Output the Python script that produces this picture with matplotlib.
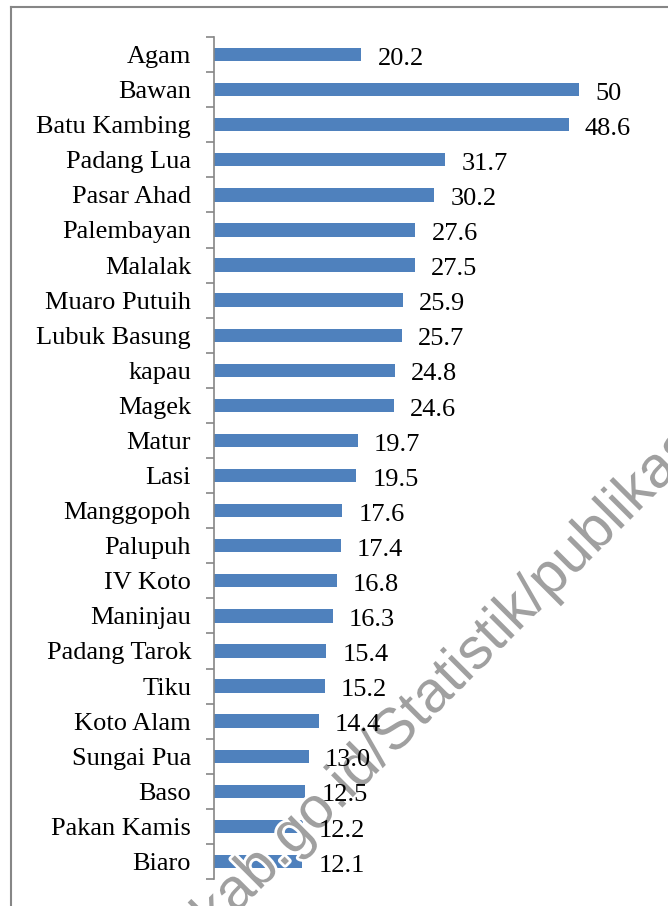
import math
import matplotlib
matplotlib.use("Agg")
import matplotlib.pyplot as plt
import matplotlib.patheffects as pe
from matplotlib.lines import Line2D

categories = ["Agam", "Bawan", "Batu Kambing", "Padang Lua", "Pasar Ahad", "Palembayan",
              "Malalak", "Muaro Putuih", "Lubuk Basung", "kapau", "Magek", "Matur", "Lasi",
              "Manggopoh", "Palupuh", "IV Koto", "Maninjau", "Padang Tarok", "Tiku",
              "Koto Alam", "Sungai Pua", "Baso", "Pakan Kamis", "Biaro"]
values = [20.2, 50, 48.6, 31.7, 30.2, 27.6, 27.5, 25.9, 25.7, 24.8, 24.6, 19.7, 19.5,
          17.6, 17.4, 16.8, 16.3, 15.4, 15.2, 14.4, 13.0, 12.5, 12.2, 12.1]
value_labels = ["20.2", "50", "48.6", "31.7", "30.2", "27.6", "27.5", "25.9", "25.7", "24.8",
                "24.6", "19.7", "19.5", "17.6", "17.4", "16.8", "16.3", "15.4", "15.2", "14.4",
                "13.0", "12.5", "12.2", "12.1"]
wm_prefix = "agamkab.go.id/"
wm_rest = "Statistik/publikasi"

W, H = 668, 906
fig = plt.figure(figsize=(W / 100, H / 100), dpi=100)
fig.patch.set_facecolor("white")

serif = ["Liberation Serif", "DejaVu Serif"]
sans = ["Liberation Sans", "DejaVu Sans"]
fs = 19
grey = "#868686"

ax = fig.add_axes([214 / W, 1 - 879 / H, 438 / W, (879 - 37) / H])
n = len(categories)
pos = list(range(n))
ax.barh(pos, values, height=0.38, color="#4F81BD", zorder=2)
ax.set_ylim(n - 0.5, -0.5)
ax.set_xlim(0, 60)

for p, v, lab in zip(pos, values, value_labels):
    ax.annotate(lab, xy=(v, p), xytext=(11.5, -3), textcoords="offset points",
                ha="left", va="center", fontsize=fs, family=serif, color="black",
                zorder=5)

ax.set_yticks(pos)
ax.set_yticklabels(categories, family=serif, fontsize=fs)
ax.set_yticks([i - 0.5 for i in range(n + 1)], minor=True)
ax.tick_params(axis="y", which="major", length=0, pad=16.5)
ax.tick_params(axis="y", which="minor", length=6, width=1.2, color=grey, direction="out")
ax.set_xticks([])
for s in ["top", "right", "bottom"]:
    ax.spines[s].set_visible(False)
ax.spines["left"].set_color(grey)
ax.spines["left"].set_linewidth(1.2)
ax.set_facecolor("none")

# outer frame (top and left edges visible)
fig.add_artist(Line2D([11 / W, 11 / W], [0, 1 - 7 / H], transform=fig.transFigure,
                      color=grey, lw=1.5))
fig.add_artist(Line2D([11 / W, 1], [1 - 7 / H, 1 - 7 / H], transform=fig.transFigure,
                      color=grey, lw=1.5))

# watermark: anchor so that "Statistik" starts at the matching spot
wm_fs = 42
angle = 45
renderer = fig.canvas.get_renderer()
tmp = fig.text(0, 0, wm_prefix, fontsize=wm_fs, family=sans)
pw = tmp.get_window_extent(renderer).width
tmp.remove()
sx, sy = 394, H - 756
ax0 = sx - pw * math.cos(math.radians(angle))
ay0 = sy - pw * math.sin(math.radians(angle))
t = ax.text(ax0 / W, ay0 / H, wm_prefix + wm_rest, rotation=angle, rotation_mode="anchor",
            ha="left", va="baseline", fontsize=wm_fs, family=sans,
            color="#a0a0a0", zorder=3, transform=fig.transFigure, clip_on=False)
t.set_path_effects([pe.withStroke(linewidth=4, foreground="white")])

fig.savefig("out.png", dpi=100)
